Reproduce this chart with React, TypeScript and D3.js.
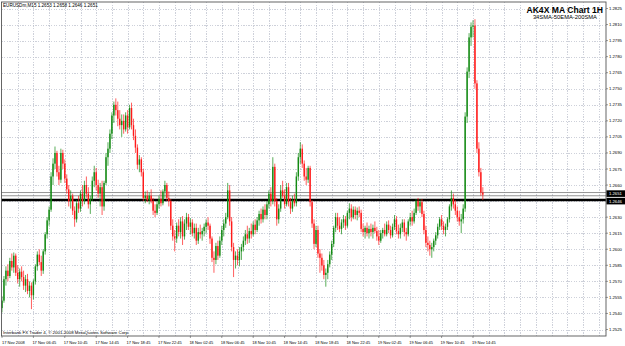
import React from 'react';
import * as d3 from 'd3';

const opens = [
1.2545,1.2552,1.2572,1.2580,1.2575,1.2589,1.2583,1.2594,1.2578,1.2572,
1.2579,1.2574,1.2566,1.2572,1.2561,1.2566,1.2557,1.2570,1.2584,1.2595,
1.2588,1.2580,1.2598,1.2614,1.2627,1.2637,1.2668,1.2680,1.2690,1.2672,
1.2665,1.2690,1.2680,1.2666,1.2656,1.2645,1.2650,1.2636,1.2628,1.2643,
1.2638,1.2652,1.2645,1.2660,1.2652,1.2642,1.2647,1.2664,1.2672,1.2660,
1.2652,1.2658,1.2640,1.2662,1.2686,1.2694,1.2708,1.2725,1.2735,1.2730,
1.2722,1.2716,1.2720,1.2712,1.2725,1.2714,1.2732,1.2716,1.2706,1.2695,
1.2679,1.2684,1.2672,1.2648,1.2650,1.2646,1.2650,1.2645,1.2636,1.2634,
1.2642,1.2647,1.2643,1.2654,1.2660,1.2648,1.2645,1.2622,1.2612,1.2610,
1.2622,1.2616,1.2626,1.2612,1.2624,1.2630,1.2621,1.2625,1.2615,1.2620,
1.2608,1.2616,1.2614,1.2617,1.2621,1.2625,1.2622,1.2610,1.2592,1.2590,
1.2603,1.2594,1.2608,1.2618,1.2624,1.2630,1.2655,1.2626,1.2602,1.2590,
1.2594,1.2590,1.2598,1.2602,1.2608,1.2614,1.2610,1.2617,1.2614,1.2623,
1.2618,1.2627,1.2633,1.2628,1.2637,1.2632,1.2642,1.2652,1.2645,1.2677,
1.2645,1.2628,1.2638,1.2655,1.2650,1.2642,1.2658,1.2644,1.2638,1.2646,
1.2643,1.2668,1.2686,1.2694,1.2680,1.2668,1.2665,1.2676,1.2644,1.2624,
1.2605,1.2618,1.2596,1.2592,1.2585,1.2576,1.2578,1.2586,1.2595,1.2605,
1.2620,1.2630,1.2622,1.2619,1.2625,1.2628,1.2622,1.2634,1.2638,1.2630,
1.2637,1.2632,1.2636,1.2634,1.2619,1.2616,1.2620,1.2615,1.2619,1.2616,
1.2620,1.2617,1.2612,1.2608,1.2615,1.2618,1.2614,1.2623,1.2618,1.2613,
1.2621,1.2628,1.2617,1.2614,1.2620,1.2625,1.2616,1.2614,1.2626,1.2630,
1.2626,1.2634,1.2645,1.2640,1.2644,1.2633,1.2618,1.2606,1.2604,1.2600,
1.2602,1.2608,1.2613,1.2621,1.2628,1.2622,1.2618,1.2621,1.2628,1.2640,
1.2648,1.2642,1.2636,1.2630,1.2626,1.2628,1.2638,1.2724,1.2766,1.2798,
1.2808,1.2809,1.2755,1.2694,1.2672,1.2653
];
const highs = [
1.2556,1.2575,1.2584,1.2586,1.2592,1.2596,1.2597,1.2596,1.2585,1.2582,
1.2584,1.2580,1.2576,1.2577,1.2570,1.2569,1.2572,1.2586,1.2598,1.2600,
1.2594,1.2600,1.2616,1.2630,1.2640,1.2672,1.2685,1.2696,1.2692,1.2678,
1.2694,1.2693,1.2684,1.2670,1.2660,1.2655,1.2652,1.2640,1.2646,1.2650,
1.2655,1.2660,1.2664,1.2668,1.2658,1.2650,1.2668,1.2678,1.2676,1.2665,
1.2662,1.2664,1.2664,1.2690,1.2700,1.2712,1.2728,1.2738,1.2741,1.2738,
1.2730,1.2726,1.2726,1.2728,1.2730,1.2735,1.2737,1.2722,1.2712,1.2698,
1.2688,1.2686,1.2675,1.2654,1.2655,1.2653,1.2656,1.2648,1.2642,1.2645,
1.2650,1.2655,1.2656,1.2664,1.2662,1.2654,1.2647,1.2628,1.2618,1.2625,
1.2628,1.2630,1.2631,1.2628,1.2634,1.2633,1.2629,1.2628,1.2624,1.2624,
1.2620,1.2623,1.2620,1.2624,1.2628,1.2630,1.2624,1.2612,1.2598,1.2606,
1.2608,1.2612,1.2622,1.2628,1.2634,1.2662,1.2660,1.2630,1.2606,1.2598,
1.2600,1.2602,1.2605,1.2612,1.2618,1.2622,1.2620,1.2624,1.2626,1.2628,
1.2630,1.2636,1.2638,1.2640,1.2642,1.2645,1.2655,1.2658,1.2686,1.2680,
1.2648,1.2642,1.2660,1.2664,1.2656,1.2662,1.2662,1.2648,1.2650,1.2652,
1.2672,1.2690,1.2700,1.2698,1.2683,1.2676,1.2678,1.2678,1.2646,1.2628,
1.2622,1.2622,1.2600,1.2596,1.2590,1.2582,1.2590,1.2598,1.2608,1.2622,
1.2634,1.2634,1.2630,1.2628,1.2632,1.2631,1.2636,1.2643,1.2642,1.2640,
1.2640,1.2639,1.2640,1.2637,1.2624,1.2622,1.2625,1.2622,1.2624,1.2623,
1.2626,1.2621,1.2618,1.2618,1.2620,1.2624,1.2626,1.2627,1.2622,1.2624,
1.2632,1.2631,1.2623,1.2624,1.2628,1.2628,1.2620,1.2628,1.2634,1.2636,
1.2638,1.2647,1.2648,1.2647,1.2647,1.2636,1.2622,1.2612,1.2608,1.2606,
1.2610,1.2616,1.2624,1.2630,1.2632,1.2626,1.2624,1.2630,1.2642,1.2655,
1.2652,1.2646,1.2640,1.2636,1.2633,1.2642,1.2728,1.2770,1.2802,1.2812,
1.2814,1.2815,1.2758,1.2700,1.2676,1.2658
];
const lows = [
1.2541,1.2550,1.2566,1.2570,1.2573,1.2580,1.2578,1.2575,1.2568,1.2565,
1.2570,1.2562,1.2560,1.2558,1.2555,1.2544,1.2553,1.2567,1.2580,1.2585,
1.2575,1.2577,1.2595,1.2610,1.2622,1.2635,1.2660,1.2675,1.2668,1.2660,
1.2662,1.2675,1.2662,1.2652,1.2640,1.2638,1.2632,1.2621,1.2625,1.2634,
1.2635,1.2640,1.2642,1.2648,1.2638,1.2633,1.2645,1.2658,1.2655,1.2648,
1.2640,1.2632,1.2636,1.2660,1.2678,1.2690,1.2703,1.2718,1.2725,1.2715,
1.2712,1.2705,1.2708,1.2710,1.2708,1.2712,1.2712,1.2702,1.2690,1.2675,
1.2672,1.2668,1.2645,1.2643,1.2644,1.2642,1.2643,1.2632,1.2630,1.2632,
1.2638,1.2640,1.2641,1.2648,1.2645,1.2640,1.2618,1.2608,1.2598,1.2606,
1.2612,1.2610,1.2604,1.2609,1.2618,1.2618,1.2614,1.2612,1.2610,1.2604,
1.2605,1.2610,1.2608,1.2612,1.2615,1.2618,1.2605,1.2588,1.2578,1.2586,
1.2590,1.2592,1.2604,1.2612,1.2620,1.2628,1.2622,1.2598,1.2574,1.2582,
1.2585,1.2584,1.2590,1.2598,1.2604,1.2605,1.2606,1.2610,1.2612,1.2614,
1.2616,1.2622,1.2624,1.2625,1.2628,1.2628,1.2638,1.2640,1.2642,1.2640,
1.2622,1.2624,1.2635,1.2648,1.2638,1.2640,1.2640,1.2633,1.2635,1.2640,
1.2640,1.2664,1.2680,1.2676,1.2664,1.2660,1.2662,1.2640,1.2620,1.2600,
1.2602,1.2592,1.2578,1.2580,1.2572,1.2565,1.2572,1.2583,1.2590,1.2602,
1.2616,1.2618,1.2616,1.2614,1.2620,1.2618,1.2620,1.2628,1.2626,1.2628,
1.2628,1.2627,1.2630,1.2616,1.2612,1.2610,1.2612,1.2610,1.2612,1.2610,
1.2615,1.2608,1.2604,1.2606,1.2610,1.2612,1.2612,1.2615,1.2610,1.2611,
1.2618,1.2614,1.2610,1.2610,1.2616,1.2612,1.2608,1.2612,1.2622,1.2622,
1.2624,1.2632,1.2636,1.2634,1.2630,1.2614,1.2602,1.2598,1.2594,1.2592,
1.2598,1.2604,1.2610,1.2618,1.2618,1.2614,1.2612,1.2618,1.2625,1.2636,
1.2638,1.2632,1.2626,1.2622,1.2615,1.2624,1.2635,1.2718,1.2760,1.2790,
1.2798,1.2750,1.2690,1.2668,1.2650,1.2646
];
const closes = [
1.2552,1.2572,1.2580,1.2575,1.2589,1.2583,1.2594,1.2578,1.2572,1.2579,
1.2574,1.2566,1.2572,1.2561,1.2566,1.2557,1.2570,1.2584,1.2595,1.2588,
1.2580,1.2598,1.2614,1.2627,1.2637,1.2668,1.2680,1.2690,1.2672,1.2665,
1.2690,1.2680,1.2666,1.2656,1.2645,1.2650,1.2636,1.2628,1.2643,1.2638,
1.2652,1.2645,1.2660,1.2652,1.2642,1.2647,1.2664,1.2672,1.2660,1.2652,
1.2658,1.2640,1.2662,1.2686,1.2694,1.2708,1.2725,1.2735,1.2730,1.2722,
1.2716,1.2720,1.2712,1.2725,1.2714,1.2732,1.2716,1.2706,1.2695,1.2679,
1.2684,1.2672,1.2648,1.2650,1.2646,1.2650,1.2645,1.2636,1.2634,1.2642,
1.2647,1.2643,1.2654,1.2660,1.2648,1.2645,1.2622,1.2612,1.2610,1.2622,
1.2616,1.2626,1.2612,1.2624,1.2630,1.2621,1.2625,1.2615,1.2620,1.2608,
1.2616,1.2614,1.2617,1.2621,1.2625,1.2622,1.2610,1.2592,1.2590,1.2603,
1.2594,1.2608,1.2618,1.2624,1.2630,1.2655,1.2626,1.2602,1.2590,1.2594,
1.2590,1.2598,1.2602,1.2608,1.2614,1.2610,1.2617,1.2614,1.2623,1.2618,
1.2627,1.2633,1.2628,1.2637,1.2632,1.2642,1.2652,1.2645,1.2677,1.2645,
1.2628,1.2638,1.2655,1.2650,1.2642,1.2658,1.2644,1.2638,1.2646,1.2643,
1.2668,1.2686,1.2694,1.2680,1.2668,1.2665,1.2676,1.2644,1.2624,1.2605,
1.2618,1.2596,1.2592,1.2585,1.2576,1.2578,1.2586,1.2595,1.2605,1.2620,
1.2630,1.2622,1.2619,1.2625,1.2628,1.2622,1.2634,1.2638,1.2630,1.2637,
1.2632,1.2636,1.2634,1.2619,1.2616,1.2620,1.2615,1.2619,1.2616,1.2620,
1.2617,1.2612,1.2608,1.2615,1.2618,1.2614,1.2623,1.2618,1.2613,1.2621,
1.2628,1.2617,1.2614,1.2620,1.2625,1.2616,1.2614,1.2626,1.2630,1.2626,
1.2634,1.2645,1.2640,1.2644,1.2633,1.2618,1.2606,1.2604,1.2600,1.2602,
1.2608,1.2613,1.2621,1.2628,1.2622,1.2618,1.2621,1.2628,1.2640,1.2648,
1.2642,1.2636,1.2630,1.2626,1.2628,1.2638,1.2724,1.2766,1.2798,1.2808,
1.2809,1.2755,1.2694,1.2672,1.2653,1.2651
];

const timeLabels = [
  '17 Nov 2008', '17 Nov 06:45', '17 Nov 10:45', '17 Nov 14:45', '17 Nov 18:45',
  '17 Nov 22:45', '18 Nov 02:45', '18 Nov 06:45', '18 Nov 10:45', '18 Nov 14:45',
  '18 Nov 18:45', '18 Nov 22:45', '19 Nov 02:45', '19 Nov 06:45', '19 Nov 10:45',
  '19 Nov 14:45'
];
const timeLabelBars = [0, 16, 32, 48, 64, 80, 96, 112, 128, 144, 160, 176, 192, 208, 224, 240];

const priceTicks = [
  1.2825, 1.2810, 1.2795, 1.2780, 1.2765, 1.2750, 1.2735, 1.2720, 1.2705, 1.2690,
  1.2675, 1.2660, 1.2645, 1.2630, 1.2615, 1.2600, 1.2585, 1.2570, 1.2555, 1.2540, 1.2525
];
const hiddenTickLabels = [1.2645];

const headerText = 'EURUSDm,M15  1.2653 1.2658 1.2646 1.2651';
const titleText = 'AK4X MA Chart 1H';
const subtitleText = '34SMA-50EMA-200SMA';
const copyrightText = 'Interbank FX Trader 4, \u00A9 2001-2008 MetaQuotes Software Corp.';

const thinLines = [1.2653, 1.2650];
const thickLinePrice = 1.2646;
const priceBoxes = [
  { label: '1.2651', price: 1.2652 },
  { label: '1.2646', price: 1.2645 },
];

const W = 625;
const H = 346;
const plotLeft = 1.5;
const plotRight = 606;
const plotTop = 2;
const plotBottom = 336;
const FONT = "'Liberation Sans', Arial, sans-serif";

export default function App() {
  const x = d3.scaleLinear().domain([0, 240]).range([2, 473]);
  const y = d3.scaleLinear().domain([1.2525, 1.2825]).range([329.5, 8.5]);

  const gridBars = d3.range(8, 320, 8).filter((b) => x(b) < plotRight - 2);
  const n = closes.length;
  const bw = 1.4;

  return (
    <svg
      width={W}
      height={H}
      viewBox={`0 0 ${W} ${H}`}
      style={{ position: 'absolute', left: 0, top: 0, background: '#fff' }}
      fontFamily={FONT}
    >
      <rect x={0} y={0} width={W} height={H} fill="#fff" />
      {/* grid */}
      <g stroke="#b9bdca" strokeWidth={0.7} strokeDasharray="1.3 1.3" shapeRendering="crispEdges">
        {priceTicks.map((p) => (
          <line key={'h' + p} x1={plotLeft} x2={plotRight} y1={Math.round(y(p)) + 0.5} y2={Math.round(y(p)) + 0.5} />
        ))}
        {gridBars.map((b) => (
          <line key={'v' + b} x1={Math.round(x(b)) + 0.5} x2={Math.round(x(b)) + 0.5} y1={plotTop} y2={plotBottom} />
        ))}
      </g>
      {/* horizontal price lines */}
      {thinLines.map((p) => (
        <line key={'t' + p} x1={plotLeft} x2={plotRight} y1={y(p)} y2={y(p)} stroke="#7a7a7a" strokeWidth={0.8} />
      ))}
      <line x1={plotLeft} x2={plotRight} y1={y(thickLinePrice)} y2={y(thickLinePrice)} stroke="#000" strokeWidth={2.4} />
      {/* candles */}
      <g>
        {d3.range(n).map((i) => {
          const o = opens[i], c = closes[i], h = highs[i], l = lows[i];
          const up = c >= o;
          const col = up ? '#138a13' : '#ff1a1a';
          const cx = x(i);
          const yt = y(Math.max(o, c));
          const yb = y(Math.min(o, c));
          return (
            <g key={i}>
              <line x1={cx} x2={cx} y1={y(h)} y2={y(l)} stroke={col} strokeWidth={0.7} />
              <rect x={cx - bw / 2} y={yt} width={bw} height={Math.max(0.7, yb - yt)} fill={col} />
            </g>
          );
        })}
      </g>
      {/* texts inside plot */}
      <text x={3} y={6.8} fontSize={4.6} fill="#000">{headerText}</text>
      <text x={603} y={12.5} fontSize={8.6} fontWeight="bold" textAnchor="end" fill="#000">{titleText}</text>
      <text x={597} y={19} fontSize={5.8} textAnchor="end" fill="#000">{subtitleText}</text>
      <text x={3} y={333.5} fontSize={4.4} fill="#000">{copyrightText}</text>
      {/* border */}
      <rect x={plotLeft} y={plotTop} width={plotRight - plotLeft} height={plotBottom - plotTop} fill="none" stroke="#555" strokeWidth={0.9} />
      {/* price axis labels */}
      {priceTicks.filter((p) => !hiddenTickLabels.includes(p)).map((p) => (
        <g key={'pl' + p}>
          <line x1={plotRight} x2={plotRight + 2} y1={y(p)} y2={y(p)} stroke="#555" strokeWidth={0.6} />
          <text x={609} y={y(p) + 1.5} fontSize={4.2} fill="#000">{p.toFixed(4)}</text>
        </g>
      ))}
      {priceBoxes.map((b, k) => (
        <g key={'pb' + k}>
          <rect x={plotRight + 0.5} y={y(b.price) - 3.3} width={W - plotRight} height={6.6} fill="#000" />
          <text x={609} y={y(b.price) + 1.5} fontSize={4.2} fill="#fff">{b.label}</text>
        </g>
      ))}
      {/* time axis labels */}
      {timeLabels.map((t, k) => (
        <g key={'tl' + k}>
          <line x1={x(timeLabelBars[k])} x2={x(timeLabelBars[k])} y1={plotBottom} y2={plotBottom + 2} stroke="#555" strokeWidth={0.6} />
          <text x={k === 0 ? 2 : x(timeLabelBars[k]) - 1} y={343.5} fontSize={4.0} fill="#000">{t}</text>
        </g>
      ))}
    </svg>
  );
}
